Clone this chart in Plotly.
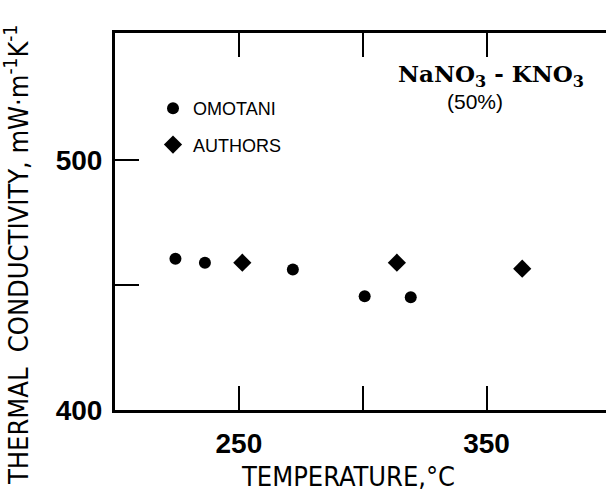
import plotly.graph_objects as go

# Data
omotani_t = [224.4, 236.3, 271.8, 300.8, 319.4]
omotani_k = [460.6, 459.0, 456.3, 445.6, 445.2]
authors_t = [251.4, 313.8, 364.4]
authors_k = [459.0, 459.0, 456.6]

x_ticks = [250, 300, 350]
x_ticktext = ["250", "", "350"]
y_ticks = [400, 450, 500]
y_ticktext = ["400", "", "500"]

W, H = 606, 504
ML, MR, MT, MB = 115, 0, 33, 94
PW, PH = W - ML - MR, H - MT - MB


def px(xp):
    return (xp - ML) / PW


def py(yp):
    return (H - MB - yp) / PH


fig = go.Figure()
fig.add_trace(go.Scatter(x=omotani_t, y=omotani_k, mode="markers", name="OMOTANI",
                         legendgroup="a",
                         marker=dict(symbol="circle", size=12, color="black")))
fig.add_trace(go.Scatter(x=authors_t, y=authors_k, mode="markers", name="AUTHORS",
                         legendgroup="b",
                         marker=dict(symbol="diamond", size=14, color="black")))

tickfont = dict(family="Liberation Sans", size=28, color="black", weight="bold")
titlefont = dict(family="DejaVu Sans Condensed, Liberation Sans", size=27, color="black")

fig.update_layout(
    width=W, height=H,
    margin=dict(l=ML, r=MR, t=MT, b=MB, pad=0),
    paper_bgcolor="white", plot_bgcolor="white",
    showlegend=True,
    legend=dict(x=px(153), y=py(90), xanchor="left", yanchor="top",
                font=dict(family="Liberation Sans", size=18, color="black"),
                tracegroupgap=10, bgcolor="rgba(0,0,0,0)"),
    xaxis=dict(range=[200, 200 + PW / 2.477], tickvals=x_ticks, ticktext=x_ticktext,
               ticks="inside", ticklen=24, tickwidth=2, tickcolor="black",
               showline=True, linewidth=3, linecolor="black", mirror="ticks",
               showgrid=False, zeroline=False, tickfont=tickfont,
               ticklabelstandoff=6),
    yaxis=dict(range=[400, 551], tickvals=y_ticks, ticktext=y_ticktext,
               ticks="inside", ticklen=24, tickwidth=2, tickcolor="black",
               showline=True, linewidth=3, linecolor="black",
               showgrid=False, zeroline=False, tickfont=tickfont,
               ticklabelstandoff=4),
    yaxis2=dict(range=[400, 551], overlaying="y", side="right", tickvals=[450, 500],
                ticks="inside", ticklen=20, tickwidth=2, tickcolor="black",
                showticklabels=False, showline=False, showgrid=False, zeroline=False),
    annotations=[
        dict(text="THERMAL  CONDUCTIVITY, mW·m<sup>-1</sup>K<sup>-1</sup>",
             xref="paper", yref="paper", x=px(16), y=py(255), textangle=-90,
             showarrow=False, xanchor="center", yanchor="middle",
             font=titlefont),
        dict(text="TEMPERATURE,°C", xref="paper", yref="paper", x=px(348), y=py(476),
             showarrow=False, xanchor="center", yanchor="middle",
             font=titlefont),
        dict(text="NaNO<sub>3</sub> - KNO<sub>3</sub>", xref="paper", yref="paper",
             x=px(491), y=py(76), showarrow=False, xanchor="center", yanchor="middle",
             font=dict(family="DejaVu Serif", size=23, color="black", weight="bold")),
        dict(text="(50%)", xref="paper", yref="paper", x=px(475), y=py(101),
             showarrow=False, xanchor="center", yanchor="middle",
             font=dict(family="Liberation Sans", size=21, color="black")),
    ],
)

fig.write_html("out.html")
